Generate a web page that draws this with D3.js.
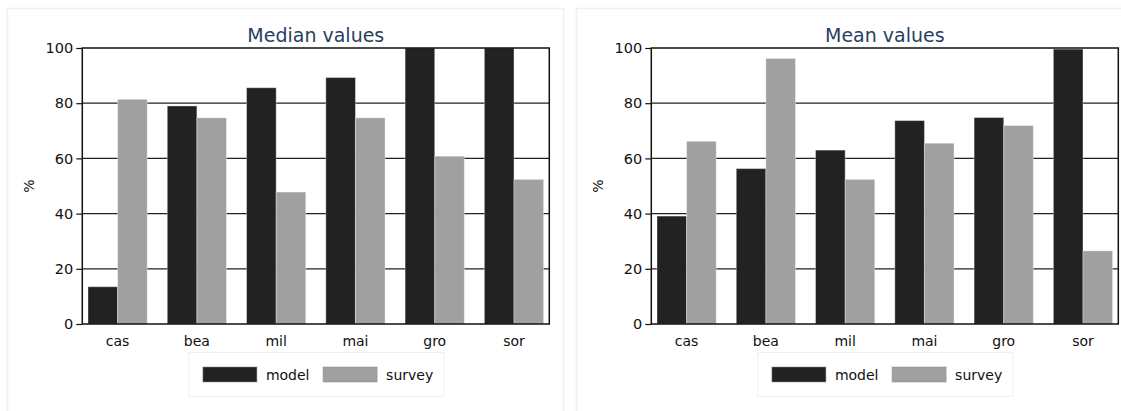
<!DOCTYPE html>
<html>
<head>
<meta charset="utf-8">
<script src="https://cdn.jsdelivr.net/npm/d3@7/dist/d3.min.js"></script>
<style>
  html, body { margin: 0; padding: 0; background: #fff; }
  svg { display: block; font-family: "DejaVu Sans", Verdana, sans-serif; }
</style>
</head>
<body>
<svg id="chart" width="1121" height="411"></svg>
<script>
// Crop categories and series
const categories = ["cas", "bea", "mil", "mai", "gro", "sor"];
const seriesNames = ["model", "survey"];
const medianModel  = [13.5, 79.0, 85.6, 89.3, 100, 100];
const medianSurvey = [81.4, 74.7, 47.8, 74.7, 60.8, 52.4];
const meanModel    = [39.1, 56.3, 63.0, 73.7, 74.8, 99.6];
const meanSurvey   = [66.2, 96.2, 52.4, 65.5, 71.9, 26.5];
const yTicks = [0, 20, 40, 60, 80, 100];
const panelTitles = ["Median values", "Mean values"];

const colors = { model: "#222222", survey: "#a0a0a0" };
const svg = d3.select("#chart");

const panelW = 556, panelTop = 8;
const plot = { left: 75.3, width: 467, top: 48, bottom: 324 };

function drawPanel(x0, title, model, survey) {
  const g = svg.append("g").attr("transform", `translate(${x0},0)`);

  // panel frame
  g.append("rect")
    .attr("x", 0.5).attr("y", panelTop + 0.5)
    .attr("width", panelW).attr("height", 440)
    .attr("fill", "#fff").attr("stroke", "#eaf2f2").attr("stroke-width", 1.5);

  const x = d3.scaleBand()
    .domain(categories)
    .range([plot.left, plot.left + plot.width])
    .paddingInner(0.253)
    .paddingOuter(0.072);
  const xs = d3.scaleBand().domain(seriesNames).range([0, x.bandwidth()]).padding(0);
  const y = d3.scaleLinear().domain([0, 100]).range([plot.bottom, plot.top]);

  // horizontal grid
  g.append("g").selectAll("line")
    .data(yTicks.filter(t => t > 0 && t < 100))
    .join("line")
    .attr("x1", plot.left).attr("x2", plot.left + plot.width)
    .attr("y1", d => y(d)).attr("y2", d => y(d))
    .attr("stroke", "#222").attr("stroke-width", 1.2);

  // bars
  const rows = categories.map((c, i) => ({ cat: c, model: model[i], survey: survey[i] }));
  g.append("g").selectAll("g")
    .data(rows)
    .join("g")
    .attr("transform", d => `translate(${x(d.cat)},0)`)
    .selectAll("rect")
    .data(d => seriesNames.map(s => ({ s, v: d[s] })))
    .join("rect")
    .attr("x", d => xs(d.s))
    .attr("width", xs.bandwidth())
    .attr("y", d => y(d.v))
    .attr("height", d => y(0) - y(d.v))
    .attr("fill", d => colors[d.s])
    .attr("stroke", "#fff").attr("stroke-opacity", 0.35).attr("stroke-width", 1);

  // plot frame
  g.append("rect")
    .attr("x", plot.left).attr("y", plot.top)
    .attr("width", plot.width).attr("height", plot.bottom - plot.top)
    .attr("fill", "none").attr("stroke", "#111").attr("stroke-width", 1.5);

  // y axis
  const yAxis = d3.axisLeft(y).tickValues(yTicks).tickSize(6).tickPadding(3).tickFormat(d3.format("d"));
  const ya = g.append("g").attr("transform", `translate(${plot.left},0)`).call(yAxis);
  ya.select(".domain").remove();
  ya.selectAll(".tick line").attr("stroke", "#111").attr("stroke-width", 1.2);
  ya.selectAll(".tick text").attr("font-size", 14.5).attr("fill", "#111")
    .attr("font-family", "DejaVu Sans, Verdana, sans-serif");

  // x axis labels
  const xAxis = d3.axisBottom(x).tickSize(0).tickPadding(12);
  const xa = g.append("g").attr("transform", `translate(0,${plot.bottom})`).call(xAxis);
  xa.select(".domain").remove();
  xa.selectAll(".tick text").attr("font-size", 14).attr("fill", "#111")
    .attr("font-family", "DejaVu Sans, Verdana, sans-serif");

  // y axis title
  g.append("text")
    .attr("transform", `translate(${32 - 7 + 2},${(plot.top + plot.bottom) / 2}) rotate(-90)`)
    .attr("text-anchor", "middle")
    .attr("font-size", 14).attr("fill", "#111")
    .text("%");

  // chart title
  const cx = plot.left + plot.width / 2;
  g.append("text")
    .attr("x", cx).attr("y", 41.5)
    .attr("text-anchor", "middle")
    .attr("font-size", 19).attr("fill", "#2a3f5f")
    .text(title);

  // legend
  const lw = 255, lx = cx - lw / 2;
  const lg = g.append("g").attr("transform", `translate(${lx},352)`);
  lg.append("rect").attr("x", 0.5).attr("y", 0.5).attr("width", lw).attr("height", 44)
    .attr("fill", "#fff").attr("stroke", "#eaf2f2").attr("stroke-width", 1);
  const items = [{ s: "model", off: 14.6 }, { s: "survey", off: 134.8 }];
  items.forEach(it => {
    lg.append("rect").attr("x", it.off).attr("y", 15).attr("width", 54).attr("height", 15)
      .attr("fill", colors[it.s]).attr("stroke", "#888").attr("stroke-opacity", 0.5);
    lg.append("text").attr("x", it.off + 63).attr("y", 27.5)
      .attr("font-size", 14).attr("fill", "#111").text(it.s);
  });
}

drawPanel(7, panelTitles[0], medianModel, medianSurvey);
drawPanel(576, panelTitles[1], meanModel, meanSurvey);
</script>
</body>
</html>
